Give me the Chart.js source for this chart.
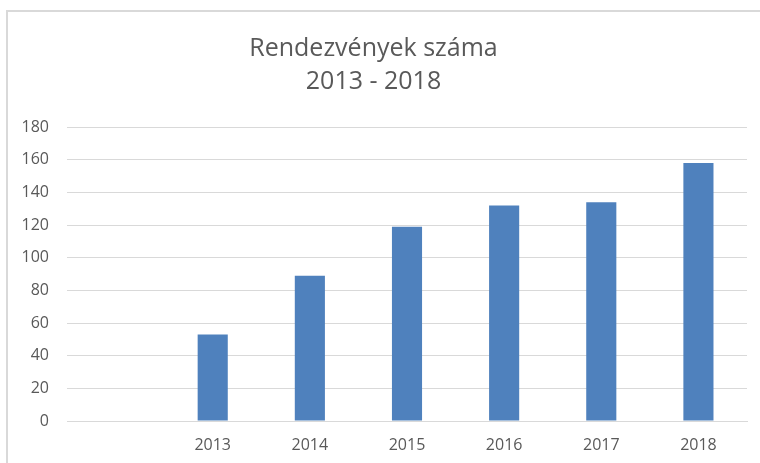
<!DOCTYPE html>
<html>
<head>
<meta charset="utf-8">
<script src="https://cdn.jsdelivr.net/npm/chart.js@4/dist/chart.umd.min.js"></script>
<style>
    html, body { margin: 0; padding: 0; background: #fff; }
    #wrap { position: relative; width: 760px; height: 463px; overflow: hidden; }
    #frame {
        position: absolute; left: 6px; top: 10px; width: 800px; height: 500px;
        border-left: 2px solid #d9d9d9; border-top: 2px solid #d9d9d9;
    }
    canvas { position: absolute; left: 0; top: 0; }
</style>
</head>
<body>
<div id="wrap">
    <div id="frame"></div>
    <canvas id="chart" width="760" height="463"></canvas>
</div>
<script>
'use strict';

// Chart data (first category is left empty, like in the original sheet)
const years = ['', '2013', '2014', '2015', '2016', '2017', '2018'];
const eventCounts = [null, 53, 89, 119, 132, 134, 158];
const titleLines = ['Rendezvények száma', '2013 - 2018'];

const textColor = '#595959';
const gridColor = '#d9d9d9';
const fontFamily = '"Open Sans", "Liberation Sans", sans-serif';

let ctx = document.getElementById('chart').getContext('2d');
let chart = new Chart(ctx, {
    type: 'bar',
    data: {
        labels: years,
        datasets: [{
            data: eventCounts,
            backgroundColor: '#4f81bd',
            barPercentage: 0.31,
            categoryPercentage: 1
        }]
    },
    options: {
        responsive: false,
        animation: false,
        layout: {
            padding: {left: 0, right: 13, top: 0, bottom: 0}
        },
        plugins: {
            legend: {display: false},
            tooltip: {enabled: false},
            title: {
                display: true,
                text: titleLines,
                color: textColor,
                font: {family: fontFamily, size: 25, weight: 'normal', lineHeight: 1.34},
                padding: {top: 32, bottom: 28}
            }
        },
        scales: {
            x: {
                grid: {display: false, drawTicks: false},
                border: {display: true, color: gridColor, width: 1},
                ticks: {
                    color: textColor,
                    font: {family: fontFamily, size: 16},
                    padding: 15,
                    maxRotation: 0
                },
                afterFit: (scale) => { scale.height = 42; }
            },
            y: {
                min: 0,
                max: 180,
                grid: {color: gridColor, drawTicks: false},
                border: {display: false},
                ticks: {
                    stepSize: 20,
                    color: textColor,
                    font: {family: fontFamily, size: 16},
                    padding: 18
                },
                afterFit: (scale) => { scale.width = 67; }
            }
        }
    }
});
</script>
</body>
</html>
